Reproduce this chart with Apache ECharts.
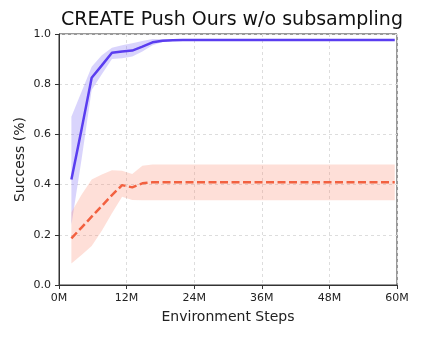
<!DOCTYPE html>
<html>
<head>
<meta charset="utf-8">
<script src="https://cdn.jsdelivr.net/npm/echarts@6/dist/echarts.min.js"></script>
<style>
  html, body { margin: 0; padding: 0; background: #fff; }
  #chart { width: 422px; height: 338px; }
</style>
</head>
<body>
<div id="chart"></div>
<script>
// environment steps (millions)
var steps = [2.2, 4.0, 5.8, 7.6, 9.4, 11.2, 13.0, 14.8, 16.6, 18.4, 20.2, 22.0, 59.6];

// ours w/o subsampling (blue)
var blueMean  = [0.42, 0.62, 0.826, 0.875, 0.925, 0.930, 0.934, 0.950, 0.967, 0.973, 0.975, 0.976, 0.976];
var blueLow   = [0.24, 0.50, 0.777, 0.840, 0.900, 0.903, 0.910, 0.930, 0.955, 0.968, 0.972, 0.974, 0.974];
var blueHigh  = [0.67, 0.77, 0.870, 0.915, 0.945, 0.955, 0.963, 0.972, 0.980, 0.980, 0.979, 0.978, 0.978];

// second method (red dashed)
var redMean   = [0.186, 0.229, 0.272, 0.315, 0.358, 0.398, 0.389, 0.405, 0.409, 0.409, 0.409, 0.409, 0.409];
var redLow    = [0.086, 0.120, 0.155, 0.216, 0.286, 0.352, 0.339, 0.338, 0.338, 0.338, 0.338, 0.338, 0.338];
var redHigh   = [0.290, 0.360, 0.420, 0.440, 0.457, 0.455, 0.442, 0.475, 0.480, 0.480, 0.480, 0.480, 0.480];

var yTicks = [0, 0.2, 0.4, 0.6, 0.8, 1.0];
var xTicks = [0, 12, 24, 36, 48, 60];

function pairs(vals) {
  return steps.map(function (s, i) { return [s, vals[i]]; });
}

// shaded band between lo and hi, drawn as one polygon through the axes' scales
function band(lo, hi, color) {
  return {
    type: 'custom', silent: true, z: 1,
    data: pairs(lo),
    renderItem: function (params, api) {
      if (params.dataIndex !== 0) return null;
      var pts = [];
      for (var i = 0; i < steps.length; i++) pts.push(api.coord([steps[i], hi[i]]));
      for (var j = steps.length - 1; j >= 0; j--) pts.push(api.coord([steps[j], lo[j]]));
      return { type: 'polygon', shape: { points: pts }, style: { fill: color } };
    }
  };
}

var chart = echarts.init(document.getElementById('chart'));
var font = 'DejaVu Sans';

chart.setOption({
  animation: false,
  title: {
    text: 'CREATE Push Ours w/o subsampling',
    left: 227, top: 6, textAlign: 'center',
    textStyle: { fontFamily: font, fontSize: 19, fontWeight: 'normal', color: '#111' }
  },
  grid: { left: 59, right: 25, top: 34, bottom: 53, show: true, borderColor: '#333', borderWidth: 1 },
  xAxis: {
    type: 'value', min: 0, max: 60, interval: 12,
    name: 'Environment Steps', nameLocation: 'middle', nameGap: 25, nameMoveOverlap: false,
    nameTextStyle: { fontFamily: font, fontSize: 14, color: '#222' },
    axisLine: { lineStyle: { color: '#333' } },
    axisTick: { show: true, length: 4, lineStyle: { color: '#333' } },
    axisLabel: { fontFamily: font, fontSize: 11, color: '#222', margin: 8,
      formatter: function (v) { return xTicks.indexOf(v) >= 0 ? v + 'M' : ''; } },
    splitLine: { show: true, lineStyle: { color: '#ddd', type: [3, 3] } }
  },
  yAxis: {
    type: 'value', min: 0, max: 1, interval: 0.2,
    name: 'Success (%)', nameLocation: 'middle', nameGap: 32, nameMoveOverlap: false,
    nameTextStyle: { fontFamily: font, fontSize: 14, color: '#222' },
    axisLine: { show: true, lineStyle: { color: '#333' } },
    axisTick: { show: true, length: 4, lineStyle: { color: '#333' } },
    axisLabel: { fontFamily: font, fontSize: 11, color: '#222', margin: 8,
      formatter: function (v) { return v.toFixed(1); } },
    splitLine: { show: true, lineStyle: { color: '#ddd', type: [3, 3] } }
  },
  series: [
    band(blueLow, blueHigh, 'rgba(120,100,245,0.28)'),
    band(redLow, redHigh, 'rgba(250,130,105,0.26)'),
    { type: 'line', data: pairs(blueMean), symbol: 'none', z: 3,
      lineStyle: { color: '#5a3df0', width: 2.5 } },
    { type: 'line', data: pairs(redMean), symbol: 'none', z: 3,
      lineStyle: { color: '#f26140', width: 2.5, type: [8, 3.5] } }
  ]
});
</script>
</body>
</html>
